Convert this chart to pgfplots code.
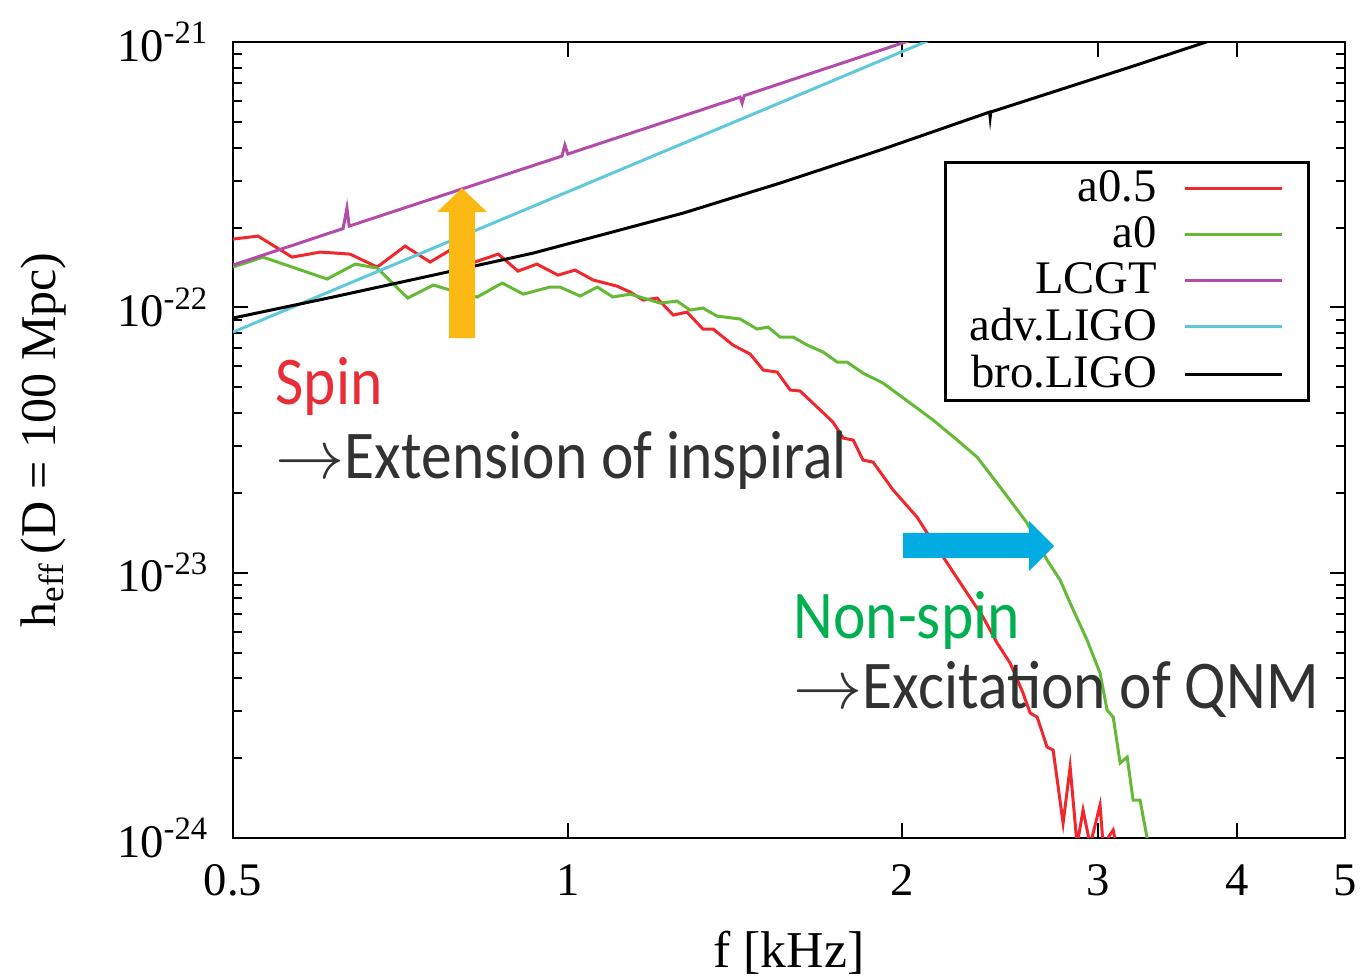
\documentclass[border=0pt]{standalone}
\usepackage{fontspec}
\setmainfont{Liberation Serif}
\newfontfamily\annofont{Carlito}[FakeStretch=0.9]
\usepackage{pgfplots}
\pgfplotsset{compat=1.18}
\usetikzlibrary{calc}

\definecolor{cred}{RGB}{240,40,45}
\definecolor{cgreen}{RGB}{100,185,55}
\definecolor{cpurple}{RGB}{180,75,170}
\definecolor{ccyan}{RGB}{95,200,220}
\definecolor{spinred}{RGB}{232,45,55}
\definecolor{nsgreen}{RGB}{0,176,80}
\definecolor{arrorange}{RGB}{253,185,19}
\definecolor{arrblue}{RGB}{0,172,226}
\definecolor{annogray}{RGB}{50,50,50}

\begin{document}
\begin{tikzpicture}
\begin{axis}[
    name=ax,
    scale only axis,
    width=333.5pt, height=238.7pt,
    xmode=log, ymode=log, log basis x=10, log basis y=10,
    xmin=0.5, xmax=5, ymin=1e-24, ymax=1e-21,
    xtick={0.5,1,2,3,4,5},
    xticklabels={0.5,1,2,3,4,5},
    xminorticks=false,
    yticklabel={10\textsuperscript{\pgfmathparse{int(round(\tick))}\pgfmathresult}},
    xticklabel style={yshift=-4.5pt},
    yticklabel style={xshift=-3.7pt},
    tick style={black, line width=0.6pt},
    major tick length=4.5pt, minor tick length=2.8pt,
    axis line style={line width=0.8pt},
    ticklabel style={font=\fontsize{14}{16}\selectfont},
    xlabel={f [kHz]},
    xlabel style={at={(rel axis cs:0.5,0)}, anchor=base, yshift=-39pt,
                  font=\fontsize{15.5}{17}\selectfont},
    every axis plot/.append style={line width=0.9pt},
    legend plot pos=right,
    legend cell align=right,
    legend image code/.code={\draw[#1] (0pt,0pt) -- (29pt,0pt); \path (31pt,0pt);},
    legend style={at={(0.9685,0.8504)}, anchor=north east,
                  draw=black, line width=0.8pt,
                  font=\fontsize{14}{16}\selectfont,
                  nodes={inner sep=1.5pt}, column sep=6.5pt,
                  inner xsep=5.6pt, inner ysep=0.8pt},
]
\addplot[cred] coordinates {
(0.5,1.809e-22) (0.5266,1.857e-22) (0.565,1.547e-22) (0.599,1.616e-22)
(0.637,1.588e-22) (0.674,1.419e-22) (0.714,1.702e-22) (0.752,1.482e-22)
(0.784,1.644e-22) (0.825,1.482e-22) (0.866,1.588e-22) (0.902,1.370e-22)
(0.938,1.456e-22) (0.980,1.323e-22) (1.015,1.382e-22) (1.054,1.268e-22)
(1.107,1.203e-22) (1.138,1.142e-22) (1.169,1.065e-22) (1.203,1.084e-22)
(1.244,9.354e-23) (1.280,9.600e-23) (1.323,8.285e-23) (1.351,8.285e-23)
(1.408,7.211e-23) (1.459,6.668e-23) (1.499,5.803e-23) (1.543,5.703e-23)
(1.585,4.880e-23) (1.618,4.838e-23) (1.676,4.210e-23) (1.732,3.695e-23)
(1.769,3.216e-23) (1.806,3.161e-23) (1.843,2.657e-23) (1.882,2.611e-23)
(1.962,2.048e-23) (2.061,1.620e-23) (2.105,1.410e-23) (2.194,1.087e-23)
(2.286,8.377e-24) (2.363,6.803e-24) (2.433,5.428e-24) (2.499,4.564e-24)
(2.567,3.518e-24) (2.605,2.957e-24) (2.643,2.856e-24) (2.698,2.201e-24)
(2.732,2.145e-24) (2.789,1.138e-24) (2.830,1.851e-24) (2.871,9.4e-25)
(2.907,1.274e-24) (2.950,9.4e-25) (3.011,1.330e-24) (3.030,9.4e-25)
(3.094,1.071e-24) (3.113,9.4e-25)
};
\addlegendentry{a0.5}
\addplot[cgreen] coordinates {
(0.5,1.419e-22) (0.532,1.547e-22) (0.6075,1.279e-22) (0.644,1.456e-22)
(0.674,1.406e-22) (0.718,1.084e-22) (0.757,1.214e-22) (0.784,1.162e-22)
(0.829,1.094e-22) (0.873,1.235e-22) (0.912,1.122e-22) (0.964,1.193e-22)
(0.984,1.193e-22) (1.026,1.103e-22) (1.063,1.193e-22) (1.098,1.094e-22)
(1.138,1.122e-22) (1.211,1.038e-22) (1.254,1.056e-22) (1.288,9.768e-23)
(1.323,9.94e-23) (1.362,9.273e-23) (1.429,9.036e-23) (1.480,8.285e-23)
(1.514,8.430e-23) (1.552,7.729e-23) (1.595,7.729e-23) (1.642,7.211e-23)
(1.697,6.785e-23) (1.747,6.220e-23) (1.783,6.220e-23) (1.843,5.654e-23)
(1.921,5.184e-23) (2.032,4.359e-23) (2.131,3.760e-23) (2.240,3.161e-23)
(2.334,2.727e-23) (2.448,2.102e-23) (2.589,1.538e-23) (2.698,1.116e-23)
(2.772,9.378e-24) (2.830,7.682e-24) (2.931,5.571e-24) (3.011,4.183e-24)
(3.055,3.035e-24) (3.094,2.856e-24) (3.139,1.916e-24) (3.185,2.018e-24)
(3.224,1.390e-24) (3.271,1.390e-24) (3.319,1.0e-24) (3.340,9.3e-25)
};
\addlegendentry{a0}
\addplot[cpurple] coordinates {
(0.5,1.444e-22) (0.628,1.982e-22) (0.633,2.367e-22) (0.636,2.025e-22)
(0.988,3.718e-22) (0.994,4.090e-22) (1.0,3.786e-22)
(1.429,6.204e-22) (1.435,5.890e-22) (1.441,6.284e-22)
(2.011,1.0e-21) (2.207,1.139e-21)
};
\addlegendentry{LCGT}
\addplot[ccyan] coordinates {
(0.5,8.07e-23) (2.095,1.0e-21) (2.253,1.137e-21)
};
\addlegendentry{adv.LIGO}
\addplot[black] coordinates {
(0.5,9.115e-23) (0.615,1.094e-22) (0.757,1.323e-22) (0.931,1.602e-22)
(1.092,1.914e-22) (1.270,2.267e-22) (1.552,2.941e-22) (1.910,3.917e-22)
(2.395,5.447e-22) (2.398,5.20e-22) (2.401,5.450e-22)
(3.205,8.050e-22) (3.749,1.0e-21) (4.107,1.139e-21)
};
\addlegendentry{bro.LIGO}

\node[anchor=base west, inner sep=0pt, text=spinred,
      font=\annofont\fontsize{20.5}{24}\selectfont]
      at (rel axis cs:0.0378,0.544) {Spin};
\node[anchor=base west, inner sep=0pt, text=annogray,
      font=\annofont\fontsize{20.5}{24}\selectfont]
      at (rel axis cs:0.0378,0.452) {$\rightarrow$Extension of inspiral};
\node[anchor=base west, inner sep=0pt, text=nsgreen,
      font=\annofont\fontsize{20.5}{24}\selectfont]
      at (rel axis cs:0.5036,0.25) {Non-spin};
\node[anchor=base west, inner sep=0pt, text=annogray,
      font=\annofont\fontsize{20.5}{24}\selectfont]
      at (rel axis cs:0.5036,0.163) {$\rightarrow$Excitation of QNM};

% arrows
\fill[arrorange] (rel axis cs:0.19424,0.62814) -- (rel axis cs:0.21763,0.62814)
  -- (rel axis cs:0.21763,0.78643) -- (rel axis cs:0.22842,0.78643)
  -- (rel axis cs:0.20594,0.81658) -- (rel axis cs:0.18345,0.78643)
  -- (rel axis cs:0.19424,0.78643) -- cycle;
\fill[arrblue] (rel axis cs:0.60252,0.38317) -- (rel axis cs:0.71583,0.38317)
  -- (rel axis cs:0.71583,0.39824) -- (rel axis cs:0.73831,0.36683)
  -- (rel axis cs:0.71583,0.33543) -- (rel axis cs:0.71583,0.35176)
  -- (rel axis cs:0.60252,0.35176) -- cycle;
\end{axis}

\node[rotate=90, font=\fontsize{15}{17}\selectfont]
  at ($(ax.west)+(-57pt,0)$) {h\textsubscript{eff}\,(D = 100 Mpc)};

\pgfresetboundingbox
\path[use as bounding box] ($(ax.south west)+(-69.9pt,-42.3pt)$)
  rectangle ($(ax.north east)+(6.6pt,12.6pt)$);
\end{tikzpicture}
\end{document}
